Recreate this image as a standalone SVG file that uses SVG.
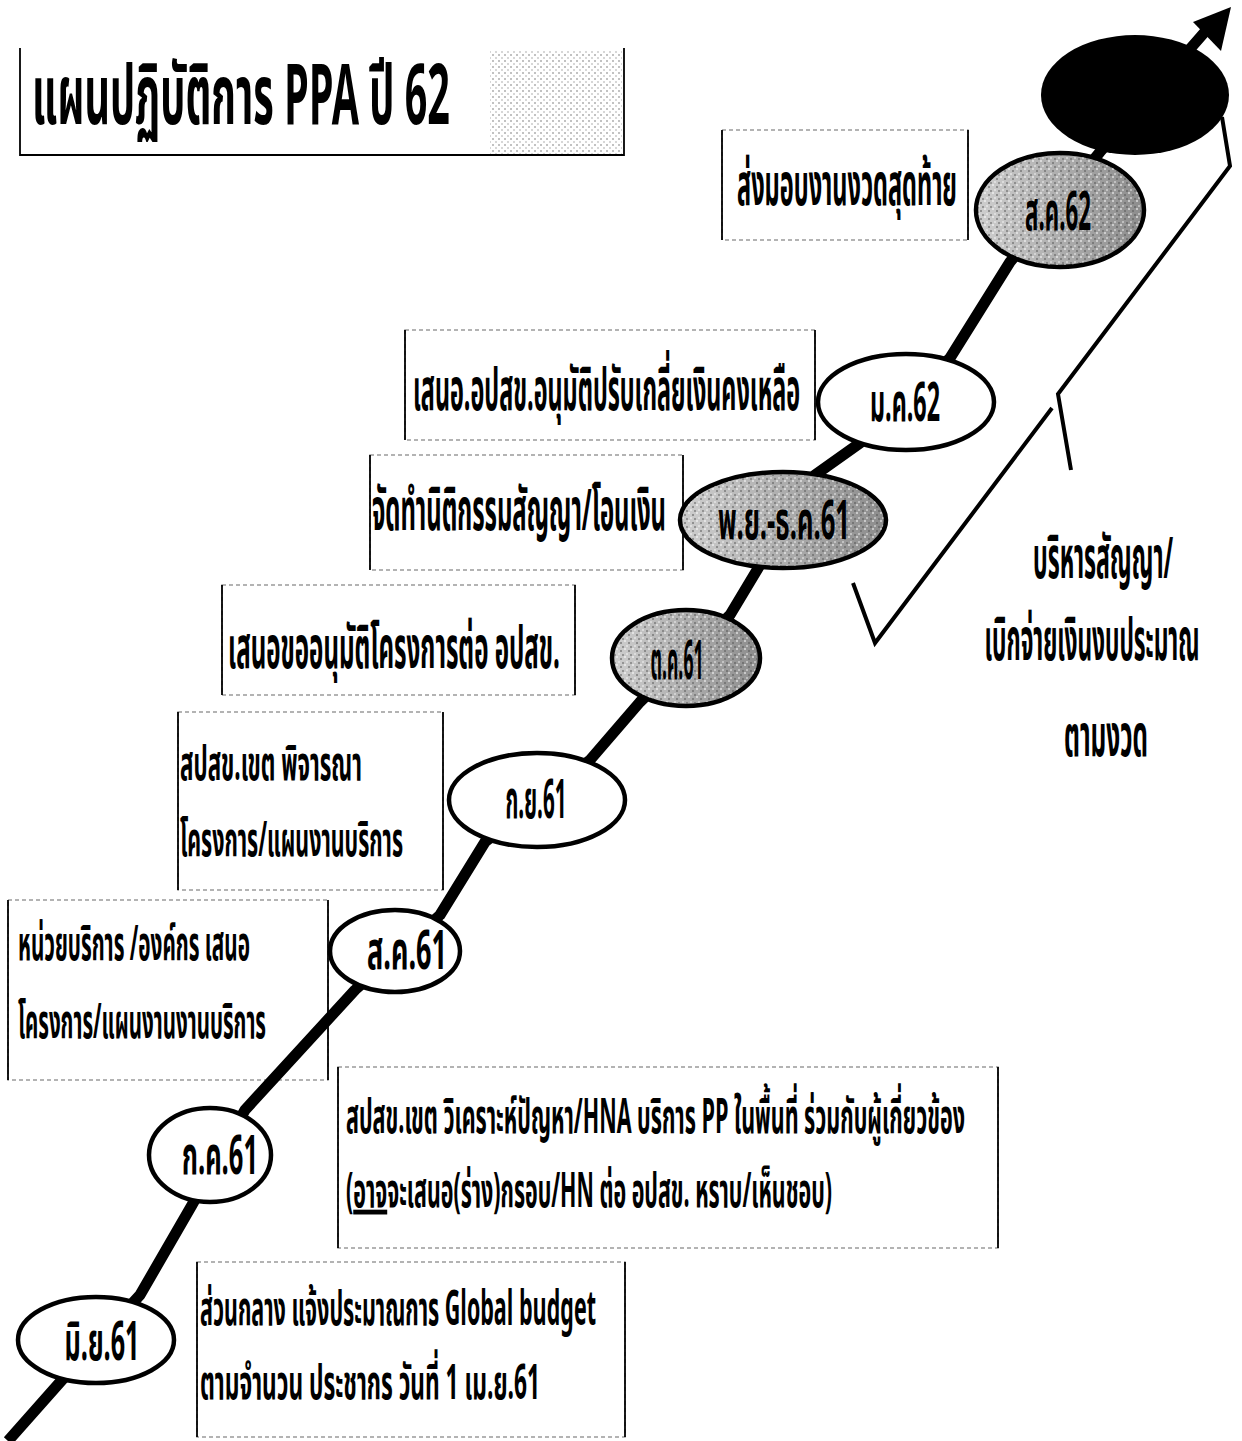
<svg xmlns="http://www.w3.org/2000/svg" width="1242" height="1441" viewBox="0 0 1242 1441">
<defs>
<style>
text{font-family:"Noto Sans Thai","Noto Sans Thai UI","Loma","Garuda","Noto Sans","DejaVu Sans",sans-serif;fill:#000;font-weight:bold}
.title{font-size:28px}
.big{font-size:19.3px}
.mid{font-size:16px}
.lbl{font-size:18px}
.ell{stroke:#000;stroke-width:4.5}
.white{fill:#fff}
.grey{fill:url(#gr)}
.tex{fill:url(#noise);stroke:none}
.box{fill:none;stroke:#9a9a9a;stroke-width:1.5;stroke-dasharray:4 3}
.side{stroke:#000;stroke-width:1.8}
.main{fill:none;stroke:#000;stroke-width:11;stroke-linejoin:round}
.brace{fill:none;stroke:#000;stroke-width:4;stroke-linejoin:miter}
</style>
<linearGradient id="gr" x1="0" y1="0" x2="1" y2="0">
<stop offset="0" stop-color="#cfcfcf"/>
<stop offset="1" stop-color="#8c8c8c"/>
</linearGradient>
<pattern id="dots" width="6" height="6" patternUnits="userSpaceOnUse">
<rect x="0" y="0" width="2" height="2" fill="#9a9a9a"/>
<rect x="3" y="3" width="2" height="2" fill="#bdbdbd"/>
</pattern>
<pattern id="noise" width="8" height="8" patternUnits="userSpaceOnUse">
<rect x="0" y="0" width="2" height="2" fill="#fff" opacity="0.5"/>
<rect x="4" y="2" width="2" height="2" fill="#555" opacity="0.5"/>
<rect x="2" y="5" width="2" height="2" fill="#fff" opacity="0.4"/>
<rect x="6" y="6" width="2" height="2" fill="#444" opacity="0.4"/>
</pattern>
</defs>
<rect width="1242" height="1441" fill="#fff"/>

<g id="title">
<rect x="490" y="50" width="132" height="104" fill="url(#dots)" opacity="0.6"/>
<line class="side" x1="20" y1="48" x2="20" y2="156" stroke-width="2.5"/>
<line class="side" x1="624" y1="48" x2="624" y2="156" stroke-width="2.5"/>
<line class="side" x1="20" y1="155" x2="624" y2="155" stroke-width="4"/>
<text class="title" transform="translate(32,124) scale(1,3)" textLength="418" lengthAdjust="spacingAndGlyphs">แผนปฏิบัติการ PPA  ปี 62</text>
</g>

<g id="box-final">
<rect class="box" x="722" y="130" width="246" height="110"/>
<line class="side" x1="722" y1="130" x2="722" y2="240"/>
<line class="side" x1="968" y1="130" x2="968" y2="240"/>
<text class="big" transform="translate(737,205) scale(1,3)" textLength="220" lengthAdjust="spacingAndGlyphs">ส่งมอบงานงวดสุดท้าย</text>
</g>
<g id="box-adjust">
<rect class="box" x="405" y="330" width="410" height="110"/>
<line class="side" x1="405" y1="330" x2="405" y2="440"/>
<line class="side" x1="815" y1="330" x2="815" y2="440"/>
<text class="big" transform="translate(413,410) scale(1,3)" textLength="387" lengthAdjust="spacingAndGlyphs">เสนอ.อปสข.อนุมัติปรับเกลี่ยเงินคงเหลือ</text>
</g>
<g id="box-contract">
<rect class="box" x="370" y="455" width="313" height="115"/>
<line class="side" x1="370" y1="455" x2="370" y2="570"/>
<line class="side" x1="683" y1="455" x2="683" y2="570"/>
<text class="big" transform="translate(372,530) scale(1,3)" textLength="294" lengthAdjust="spacingAndGlyphs">จัดทำนิติกรรมสัญญา/โอนเงิน</text>
</g>
<g id="box-approve">
<rect class="box" x="222" y="585" width="353" height="110"/>
<line class="side" x1="222" y1="585" x2="222" y2="695"/>
<line class="side" x1="575" y1="585" x2="575" y2="695"/>
<text class="big" transform="translate(228,668) scale(1,3)" textLength="332" lengthAdjust="spacingAndGlyphs">เสนอขออนุมัติโครงการต่อ อปสข.</text>
</g>
<g id="box-consider">
<rect class="box" x="178" y="712" width="265" height="178"/>
<line class="side" x1="178" y1="712" x2="178" y2="890"/>
<line class="side" x1="443" y1="712" x2="443" y2="890"/>
<text class="mid" transform="translate(180,780) scale(1,3)" textLength="182" lengthAdjust="spacingAndGlyphs">สปสข.เขต พิจารณา</text>
<text class="mid" transform="translate(180,856) scale(1,3)" textLength="223" lengthAdjust="spacingAndGlyphs">โครงการ/แผนงานบริการ</text>
</g>
<g id="box-propose">
<rect class="box" x="8" y="900" width="320" height="180"/>
<line class="side" x1="8" y1="900" x2="8" y2="1080"/>
<line class="side" x1="328" y1="900" x2="328" y2="1080"/>
<text class="mid" transform="translate(18,960) scale(1,3)" textLength="232" lengthAdjust="spacingAndGlyphs">หน่วยบริการ /องค์กร เสนอ</text>
<text class="mid" transform="translate(18,1038) scale(1,3)" textLength="248" lengthAdjust="spacingAndGlyphs">โครงการ/แผนงานงานบริการ</text>
</g>
<g id="box-analyze">
<rect class="box" x="338" y="1067" width="660" height="181"/>
<line class="side" x1="338" y1="1067" x2="338" y2="1248"/>
<line class="side" x1="998" y1="1067" x2="998" y2="1248"/>
<text class="mid" transform="translate(346,1133) scale(1,3)" textLength="619" lengthAdjust="spacingAndGlyphs">สปสข.เขต วิเคราะห์ปัญหา/HNA บริการ PP ในพื้นที่ ร่วมกับผู้เกี่ยวข้อง</text>
<text class="mid" transform="translate(346,1207) scale(1,3)" textLength="486" lengthAdjust="spacingAndGlyphs">(<tspan text-decoration="underline">อาจ</tspan>จะเสนอ(ร่าง)กรอบ/HN ต่อ อปสข. หราบ/เห็นชอบ)</text>
</g>
<g id="box-central">
<rect class="box" x="197" y="1262" width="428" height="175"/>
<line class="side" x1="197" y1="1262" x2="197" y2="1437"/>
<line class="side" x1="625" y1="1262" x2="625" y2="1437"/>
<text class="mid" transform="translate(200,1325) scale(1,3)" textLength="396" lengthAdjust="spacingAndGlyphs">ส่วนกลาง  แจ้งประมาณการ Global budget</text>
<text class="mid" transform="translate(200,1399) scale(1,3)" textLength="340" lengthAdjust="spacingAndGlyphs">ตามจำนวน ประชากร  วันที่  1 เม.ย.61</text>
</g>

<g id="note-manage">
<text class="big" transform="translate(1103,578) scale(1,3)" text-anchor="middle" textLength="140" lengthAdjust="spacingAndGlyphs">บริหารสัญญา/</text>
<text class="big" transform="translate(1092,660) scale(1,3)" text-anchor="middle" textLength="215" lengthAdjust="spacingAndGlyphs">เบิกจ่ายเงินงบประมาณ</text>
<text class="big" transform="translate(1106,756) scale(1,3)" text-anchor="middle" textLength="84" lengthAdjust="spacingAndGlyphs">ตามงวด</text>
</g>

<g id="connectors">
<polyline class="main" points="8,1441 62,1380 140,1295 192,1205 245,1110 355,990 440,915 485,842 590,760 640,702 730,615 760,565 815,475 860,443 950,358 1010,262 1100,152 1210,26"/>
<polygon points="1231,7 1193,22 1221,51" fill="#000"/>
<polyline class="brace" points="1222,117 1230,166 1058,394 1071,470"/>
<polyline class="brace" points="1052,408 875,643 853,583"/>
</g>

<g id="m-jun61">
<ellipse class="ell white" cx="96" cy="1340" rx="78" ry="43"/>
<text class="lbl" transform="translate(102,1360) scale(1,3)" text-anchor="middle" textLength="75" lengthAdjust="spacingAndGlyphs">มิ.ย.61</text>
</g>
<g id="m-jul61">
<ellipse class="ell white" cx="210" cy="1155" rx="61" ry="47"/>
<text class="lbl" transform="translate(220,1174) scale(1,3)" text-anchor="middle" textLength="76" lengthAdjust="spacingAndGlyphs">ก.ค.61</text>
</g>
<g id="m-aug61">
<ellipse class="ell white" cx="395" cy="951" rx="65" ry="41"/>
<text class="lbl" transform="translate(407,969) scale(1,3)" text-anchor="middle" textLength="80" lengthAdjust="spacingAndGlyphs">ส.ค.61</text>
</g>
<g id="m-sep61">
<ellipse class="ell white" cx="537" cy="800" rx="88" ry="47"/>
<text class="lbl" transform="translate(536,818) scale(1,3)" text-anchor="middle" textLength="61" lengthAdjust="spacingAndGlyphs">ก.ย.61</text>
</g>
<g id="m-oct61">
<ellipse class="ell grey" cx="686" cy="658" rx="74" ry="48"/>
<ellipse class="tex" cx="686" cy="658" rx="72" ry="46"/>
<text class="lbl" transform="translate(677,679) scale(1,3)" text-anchor="middle" textLength="53" lengthAdjust="spacingAndGlyphs">ต.ค.61</text>
</g>
<g id="m-novdec61">
<ellipse class="ell grey" cx="783" cy="520" rx="103" ry="48"/>
<ellipse class="tex" cx="783" cy="520" rx="101" ry="46"/>
<text class="lbl" transform="translate(784,539) scale(1,3)" text-anchor="middle" textLength="132" lengthAdjust="spacingAndGlyphs">พ.ย.-ธ.ค.61</text>
</g>
<g id="m-jan62">
<ellipse class="ell white" cx="906" cy="402" rx="88" ry="48"/>
<text class="lbl" transform="translate(905,421) scale(1,3)" text-anchor="middle" textLength="70" lengthAdjust="spacingAndGlyphs">ม.ค.62</text>
</g>
<g id="m-aug62">
<ellipse class="ell grey" cx="1060" cy="210" rx="84" ry="57"/>
<ellipse class="tex" cx="1060" cy="210" rx="82" ry="55"/>
<text class="lbl" transform="translate(1058,230) scale(1,3)" text-anchor="middle" textLength="66" lengthAdjust="spacingAndGlyphs">ส.ค.62</text>
</g>
<g id="m-end">
<ellipse cx="1135" cy="95" rx="94" ry="60" fill="#000"/>
</g>
</svg>
